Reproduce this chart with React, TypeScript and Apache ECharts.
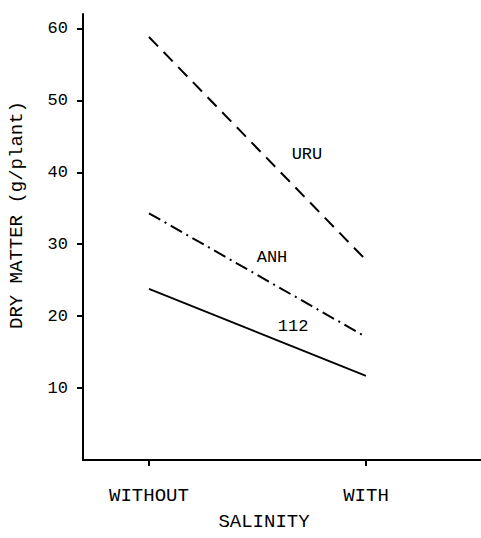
import React, { useEffect, useRef } from "react";
import * as echarts from "echarts";

const categories = ["WITHOUT", "WITH"];
const uruValues = [58.8, 27.8];
const anhValues = [34.3, 17.1];
const l112Values = [23.8, 11.7];
const yTicks = [10, 20, 30, 40, 50, 60];

const FONT = "Liberation Mono";

export default function App() {
  const ref = useRef<HTMLDivElement>(null);
  useEffect(() => {
    if (!ref.current) return;
    const chart = echarts.init(ref.current, null, { renderer: "svg" });
    const toPts = (vals: number[]) => categories.map((_, i) => [i, vals[i]]);
    const label = (text: string, x: number, y: number) => ({
      symbol: "rect",
      symbolSize: [40, 20],
      itemStyle: { color: "rgba(0,0,0,0)" },
      data: [
        {
          coord: [x, y],
          label: {
            show: true,
            formatter: text,
            position: "inside",
            color: "#000",
            fontFamily: FONT,
            fontSize: 17,
          },
        },
      ],
    });
    chart.setOption({
      animation: false,
      backgroundColor: "#fff",
      grid: { left: 83, right: 0, top: 14, bottom: 78 },
      xAxis: {
        type: "value",
        min: -0.304,
        max: 1.53,
        axisLine: { show: true, onZero: false, lineStyle: { color: "#000", width: 2 } },
        axisTick: {
          show: true,
          customValues: [0, 1],
          length: 6,
          lineStyle: { color: "#000", width: 2 },
        },
        axisLabel: {
          customValues: [0, 1],
          formatter: (v: number) => categories[Math.round(v)] ?? "",
          color: "#000",
          fontFamily: FONT,
          fontSize: 19,
          margin: 26,
        },
        splitLine: { show: false },
      },
      yAxis: {
        type: "value",
        min: 0,
        max: 62,
        axisLine: { show: true, onZero: false, lineStyle: { color: "#000", width: 2 } },
        axisTick: {
          show: true,
          customValues: yTicks,
          length: 6,
          lineStyle: { color: "#000", width: 2 },
        },
        axisLabel: {
          customValues: yTicks,
          color: "#000",
          fontFamily: FONT,
          fontSize: 17,
          margin: 15,
        },
        splitLine: { show: false },
      },
      graphic: [
        {
          type: "text",
          x: 17,
          y: 215,
          rotation: Math.PI / 2,
          style: {
            text: "DRY MATTER (g/plant)",
            fill: "#000",
            fontFamily: FONT,
            fontSize: 19,
            align: "center",
            verticalAlign: "middle",
          },
        },
        {
          type: "text",
          x: 264,
          y: 522,
          style: {
            text: "SALINITY",
            fill: "#000",
            fontFamily: FONT,
            fontSize: 19,
            align: "center",
            verticalAlign: "middle",
          },
        },
      ],
      series: [
        {
          name: "URU",
          type: "line",
          data: toPts(uruValues),
          symbol: "none",
          lineStyle: { color: "#000", width: 2, type: [13, 8] },
          markPoint: label("URU", 0.728, 42.4),
        },
        {
          name: "ANH",
          type: "line",
          data: toPts(anhValues),
          symbol: "none",
          lineStyle: { color: "#000", width: 2, type: [13, 5, 2, 5] },
          markPoint: label("ANH", 0.567, 28.1),
        },
        {
          name: "112",
          type: "line",
          data: toPts(l112Values),
          symbol: "none",
          lineStyle: { color: "#000", width: 1.8, type: "solid" },
          markPoint: label("112", 0.664, 18.5),
        },
      ],
    });
    return () => chart.dispose();
  }, []);
  return <div ref={ref} style={{ width: 481, height: 538, position: "absolute", left: 0, top: 0 }} />;
}
